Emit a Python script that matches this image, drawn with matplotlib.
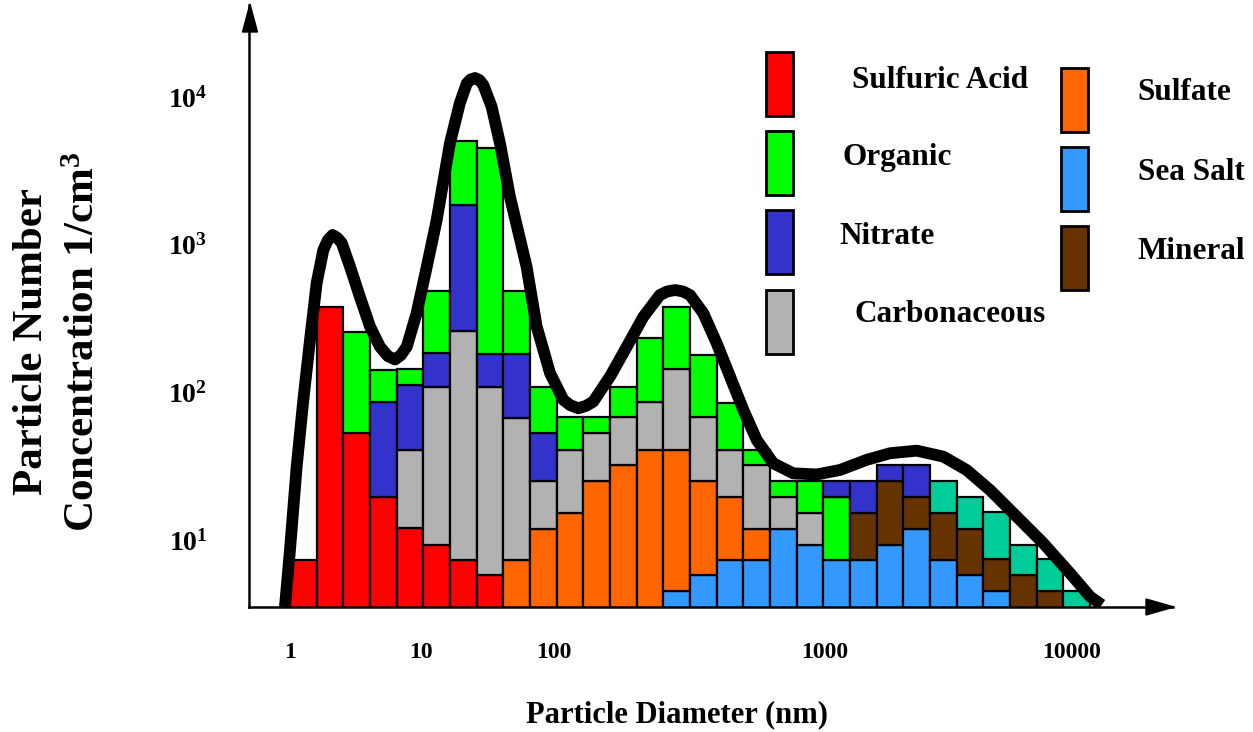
import numpy as np
import matplotlib
matplotlib.use("Agg")
import matplotlib.pyplot as plt
from matplotlib.patches import Rectangle, Polygon

plt.rcParams['font.family'] = ['Liberation Serif', 'DejaVu Serif']
plt.rcParams['font.weight'] = 'bold'
plt.rcParams['mathtext.fontset'] = 'custom'
plt.rcParams['mathtext.rm'] = 'Liberation Serif:bold'
plt.rcParams['mathtext.it'] = 'Liberation Serif:bold'
plt.rcParams['mathtext.bf'] = 'Liberation Serif:bold'

W, H = 1253, 732

# size bins (equal width on the schematic diameter axis)
n_bins = 30
x_tick_pos = [0, 4.9, 9.9, 20.05, 29.3]
x_tick_labels = ['1', '10', '100', '1000', '10000']
y_tick_vals = [10, 100, 1000, 10000]
y_tick_labels = ['$10^{1}$', '$10^{2}$', '$10^{3}$', '$10^{4}$']

# concentration of each component per bin
sulfuric_acid = [7.3, 380, 53, 19.6, 12, 9.3, 7.3, 5.8] + [0] * 22
sea_salt = [0] * 14 + [4.5, 5.8, 7.3, 7.3, 11.9, 9.3, 7.3, 7.3, 9.3, 11.9, 7.3, 5.8, 4.5, 0, 0, 0]
sulfate = [0] * 8 + [7.3, 11.9, 15.3, 25.1, 32.2, 40.9, 36.4, 19.3, 12.3, 4.6] + [0] * 12
mineral = [0] * 21 + [8.0, 15.8, 7.7, 8.0, 6.1, 2.9, 5.8, 4.5, 0]
carbonaceous = [0] * 4 + [29, 100, 251, 103, 59.5, 13.2, 25.6, 28, 35.6, 45, 102, 42.7, 21.3, 20.3, 7.7, 6.0] + [0] * 10
nitrate = [0, 0, 0, 66, 71, 74, 1600, 74, 114, 28] + [0] * 10 + [5.5, 9.8, 7.1, 12.6] + [0] * 6
organic = [0, 0, 205, 57, 31, 305, 3180, 4313, 307, 56, 26.9, 14.7, 41, 146, 236, 111, 44, 8.7, 5.5, 9.8, 12.3] + [0] * 9
other = [0] * 24 + [9.8, 7.7, 8.0, 3.5, 2.9, 4.5]
nitrate_on_top = [20]  # bins where nitrate sits above organic

# total size distribution curve
curve_x = [-0.19, 0.0, 0.25, 0.5, 0.75, 1.0, 1.25, 1.42, 1.6, 1.78, 1.94, 2.25, 2.62, 3.0, 3.37,
           3.67, 3.94, 4.16, 4.38, 4.75, 5.13, 5.5, 6.0, 6.37, 6.63, 6.77, 6.94, 7.1,
           7.25, 7.56, 7.87, 8.25, 8.87, 9.25, 9.75, 10.25, 10.5, 10.81, 11.1, 11.37, 12.0,
           12.63, 13.25, 13.87, 14.14, 14.44, 14.74, 15.0, 15.5, 16.0, 16.5, 17.0, 17.5, 18.12,
           18.87, 19.75, 20.62, 21.62, 22.5, 23.5, 24.5, 25.37, 26.25, 27.25, 28.25, 29.25,
           30.0, 30.44]
curve_y = [3.52, 8.6, 31.4, 89, 226, 551, 921, 1076, 1163, 1110, 1027, 710, 444, 279, 204,
           176, 167, 179, 204, 345, 710, 1469, 4885, 9110, 12380, 13140, 13450, 13030,
           12060, 8600, 4885, 2100, 710, 279, 135, 89, 82, 78, 81, 86.5, 128,
           204, 325, 456, 482, 493, 482, 456, 343, 215, 128, 76, 47.6, 33.1,
           28.3, 27.8, 29.8, 34.9, 38.7, 40.3, 36.7, 29.8, 21.8, 14.4, 9.5, 5.96,
           4.14, 3.64]

series = {
    'Sulfuric Acid': (sulfuric_acid, '#FF0000'),
    'Sea Salt': (sea_salt, '#3399FF'),
    'Sulfate': (sulfate, '#FF6600'),
    'Mineral': (mineral, '#663300'),
    'Carbonaceous': (carbonaceous, '#B2B2B2'),
    'Nitrate': (nitrate, '#3333CC'),
    'Organic': (organic, '#00FF00'),
    'Other': (other, '#00CC99'),
}
stack_order = list(series.keys())


def fx(px):
    return px / W


def fy(py):
    return 1 - py / H


fig = plt.figure(figsize=(W / 100, H / 100), dpi=100)
ax = fig.add_axes([fx(249), fy(607), fx(1173) - fx(249), fy(5) - fy(607)])
ax.set_yscale('log', nonpositive='clip')

x = np.arange(n_bins)
for i in x:
    order = list(stack_order)
    if i in nitrate_on_top:
        order.remove('Nitrate')
        order.insert(order.index('Organic') + 1, 'Nitrate')
    bottom = 0.0
    for name in order:
        vals, col = series[name]
        v = vals[i]
        if v <= 0:
            continue
        ax.bar(i, v, bottom=bottom, width=1.0, align='edge', color=col,
               edgecolor='black', linewidth=1.6, zorder=2)
        bottom += v

ax.plot(curve_x, curve_y, color='black', lw=8.5, zorder=5,
        solid_joinstyle='round', solid_capstyle='butt')

ax.set_xlim(-1.5375, 33.11)
ax.set_ylim(3.52, 41980)

for s in ['top', 'right']:
    ax.spines[s].set_visible(False)
for s in ['left', 'bottom']:
    ax.spines[s].set_linewidth(1.8)

ax.set_xticks(x_tick_pos)
ax.set_xticklabels(x_tick_labels, fontsize=17, fontweight='bold')
ax.set_yticks(y_tick_vals)
ax.set_yticklabels(y_tick_labels, fontsize=20)
ax.minorticks_off()
ax.tick_params(axis='x', length=0, pad=25)
ax.tick_params(axis='y', length=0, pad=30)

# arrow heads on the axes
fig.patches.append(Polygon([(fx(250), fy(4)), (fx(242.5), fy(32)), (fx(257.5), fy(32))],
                           closed=True, color='black', transform=fig.transFigure))
fig.patches.append(Polygon([(fx(1174), fy(607)), (fx(1146), fy(599)), (fx(1146), fy(615))],
                           closed=True, color='black', transform=fig.transFigure))

fig.text(fx(677), fy(715), 'Particle Diameter (nm)', fontsize=22, fontweight='bold',
         ha='center', va='center')
fig.text(fx(58), fy(342), 'Particle Number\nConcentration 1/cm$^3$', fontsize=31,
         fontweight='bold', rotation=90, ha='center', va='center', multialignment='center',
         linespacing=1.45)

# legend
legend_items = [
    ('Sulfuric Acid', 766, 52, 852, 80),
    ('Organic', 766, 131, 842, 158),
    ('Nitrate', 766, 210, 839, 237),
    ('Carbonaceous', 766, 290, 855, 315),
    ('Sulfate', 1061, 68, 1137, 93),
    ('Sea Salt', 1061, 147, 1138, 173),
    ('Mineral', 1061, 226, 1138, 252),
]
for name, rx, ry, tx, ty in legend_items:
    col = series[name][1]
    fig.patches.append(Rectangle((fx(rx), fy(ry + 64)), 27 / W, 64 / H, facecolor=col,
                                 edgecolor='black', linewidth=2, transform=fig.transFigure))
    fig.text(fx(tx), fy(ty), name, fontsize=22.5, fontweight='bold', ha='left', va='center')

fig.savefig('out.png', dpi=100)
